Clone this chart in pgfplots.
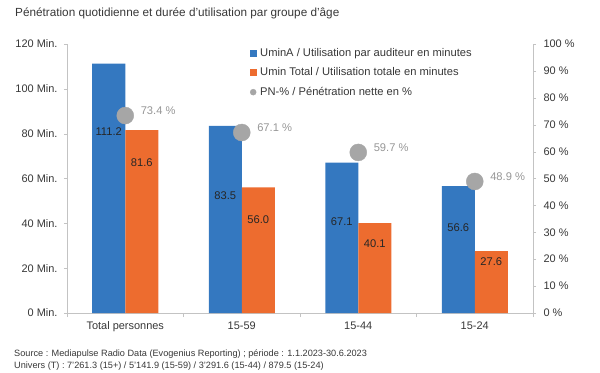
\documentclass[border=0pt]{standalone}
\usepackage{pgfplots}
\pgfplotsset{compat=1.18}
\usepackage{fontspec}
\setmainfont{Liberation Sans}
\definecolor{cblue}{RGB}{52,120,192}
\definecolor{corange}{RGB}{237,108,47}
\definecolor{cdot}{RGB}{166,166,166}
\definecolor{cline}{RGB}{195,195,195}
\definecolor{ctext}{RGB}{55,55,55}
\definecolor{cpn}{RGB}{150,150,150}
\begin{document}
\begin{tikzpicture}[x=1bp,y=1bp]
\path[use as bounding box] (-67,-59) rectangle (533,313);
\begin{axis}[
  at={(0,0)}, anchor=south west,
  scale only axis, width=466bp, height=269bp,
  xmin=-0.5, xmax=3.5, ymin=0, ymax=120,
  axis y line*=left, axis x line*=bottom,
  axis line style={cline},
  ytick={0,20,...,120},
  yticklabel={\pgfmathprintnumber{\tick} Min.},
  /pgf/number format/assume math mode=true,
  xtick={0,1,2,3},
  xticklabels={Total personnes,15-59,15-44,15-24},
  minor xtick={-0.5,0.5,1.5,2.5,3.5},
  major x tick style={draw=none},
  minor x tick style={cline},
  y tick style={cline},
  tick align=outside,
  major tick length=3bp, minor tick length=4bp,
  tick label style={font=\fontsize{11}{13}\selectfont, text=ctext},
  xticklabel style={yshift=-2bp},
  yticklabel style={xshift=-3bp},
  legend style={at={(0.382,1.0)}, anchor=north west, draw=none, fill=none,
    font=\fontsize{11.2}{13}\selectfont, text=ctext, row sep=6bp,
    /tikz/every odd column/.append style={column sep=0bp}},
  legend cell align=left,
  clip=false,
]
\addplot[ybar, bar width=33bp, bar shift=-16.5bp, fill=cblue, draw=none, forget plot]
  coordinates {(0,111.2) (1,83.5) (2,67.1) (3,56.6)};
\addplot[ybar, bar width=33bp, bar shift=16.5bp, fill=corange, draw=none, forget plot]
  coordinates {(0,81.6) (1,56.0) (2,40.1) (3,27.6)};
\addlegendimage{legend image code/.code={\path[draw=none,fill=none] (0bp,0bp) -- (10bp,0bp);\fill[cblue] (2bp,-3bp) rectangle (8bp,3bp);}}
\addlegendentry{UminA / Utilisation par auditeur en minutes}
\addlegendimage{legend image code/.code={\path[draw=none,fill=none] (0bp,0bp) -- (10bp,0bp);\fill[corange] (2bp,-3bp) rectangle (8bp,3bp);}}
\addlegendentry{Umin Total / Utilisation totale en minutes}
\addlegendimage{legend image code/.code={\path[draw=none,fill=none] (0bp,0bp) -- (10bp,0bp);\fill[cdot] (5bp,0bp) circle (3bp);}}
\addlegendentry{PN-\% / Pénétration nette en \%}
\begin{scope}[font=\fontsize{11.2}{13}\selectfont, text=black!85]
\node at (axis cs:0,80.7) [xshift=-16.5bp] {111.2};
\node at (axis cs:0,66.9) [xshift=16.5bp] {81.6};
\node at (axis cs:1,52.2) [xshift=-16.5bp] {83.5};
\node at (axis cs:1,41.5) [xshift=16.5bp] {56.0};
\node at (axis cs:2,40.6) [xshift=-16.5bp] {67.1};
\node at (axis cs:2,30.8) [xshift=16.5bp] {40.1};
\node at (axis cs:3,37.9) [xshift=-16.5bp] {56.6};
\node at (axis cs:3,22.7) [xshift=16.5bp] {27.6};
\end{scope}
\end{axis}
\begin{axis}[
  at={(0,0)}, anchor=south west,
  scale only axis, width=466bp, height=269bp,
  xmin=-0.5, xmax=3.5, ymin=0, ymax=100,
  axis y line*=right, axis x line=none,
  axis line style={cline},
  ytick={0,10,...,100},
  yticklabel={\pgfmathprintnumber{\tick} \%},
  /pgf/number format/assume math mode=true,
  y tick style={cline},
  tick align=outside, major tick length=3bp,
  tick label style={font=\fontsize{11}{13}\selectfont, text=ctext},
  yticklabel style={xshift=4bp},
  clip=false,
]
\addplot[only marks, mark=*, mark size=8.5bp, color=cdot,
  point meta=explicit symbolic,
  nodes near coords,
  every node near coord/.style={anchor=west, xshift=12bp, yshift=5bp,
     font=\fontsize{11.2}{13}\selectfont, text=cpn}]
  coordinates {(0,73.4) [73.4 \%] (1,67.1) [67.1 \%] (2,59.7) [59.7 \%] (3,48.9) [48.9 \%]};
\end{axis}
\node[anchor=base west, font=\fontsize{11.8}{14}\selectfont, text=ctext, inner sep=0] at (-52,297) {Pénétration quotidienne et durée d’utilisation par groupe d’âge};
\node[anchor=base west, font=\fontsize{9.2}{11}\selectfont, text=ctext, inner sep=0] at (-53,-43) {Source : Mediapulse Radio Data (Evogenius Reporting) ; période : 1.1.2023-30.6.2023};
\node[anchor=base west, font=\fontsize{9.2}{11}\selectfont, text=ctext, inner sep=0] at (-53,-55) {Univers (T) : 7’261.3 (15+) / 5’141.9 (15-59) / 3’291.6 (15-44) / 879.5 (15-24)};
\end{tikzpicture}
\end{document}
